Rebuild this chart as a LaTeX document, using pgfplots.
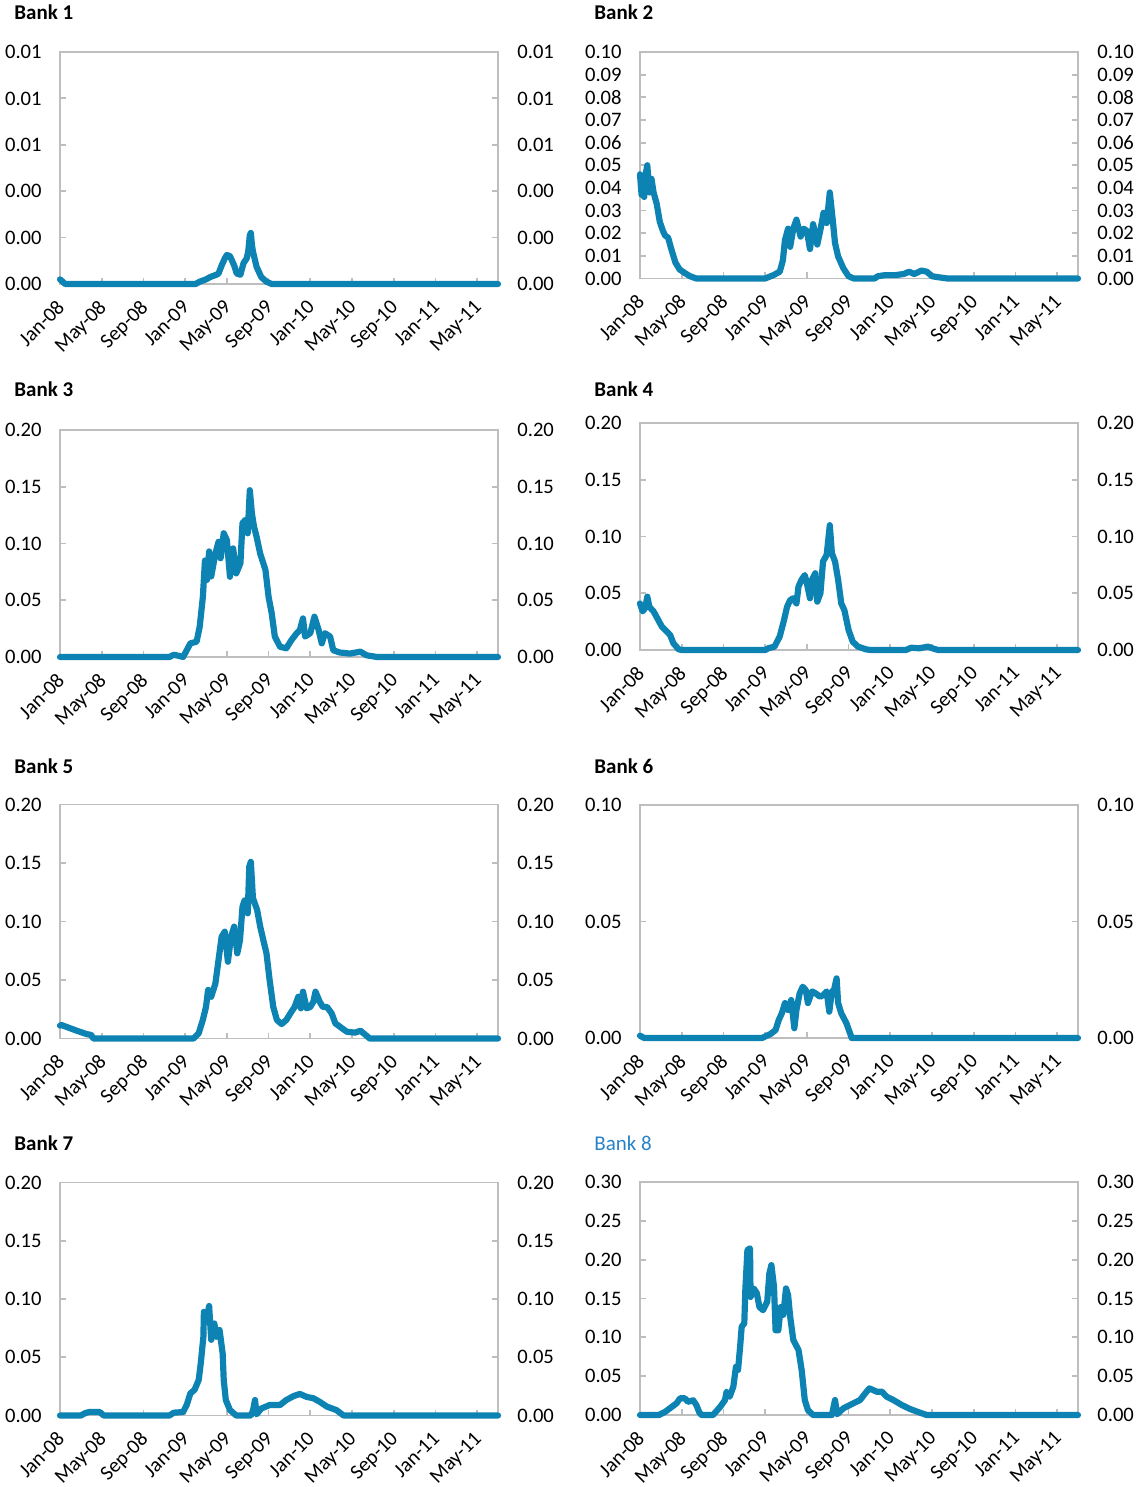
\documentclass[border=0pt]{standalone}
\usepackage{pgfplots}
\pgfplotsset{compat=1.18}
\usepackage{fontspec}
\setmainfont{Carlito}
\definecolor{lineblue}{RGB}{12,131,178}
\definecolor{framegray}{RGB}{190,190,190}
\definecolor{titleblue}{RGB}{40,130,200}

\pgfplotsset{
  bankbase/.style={
    scale only axis, width=219pt, anchor=south west,
    xmin=0, xmax=42, ymin=0,
    scaled y ticks=false,
    tick label style={font=\fontsize{10.3}{12}\selectfont},
    /pgf/number format/assume math mode=true,
    yticklabel style={/pgf/number format/fixed, /pgf/number format/fixed zerofill, /pgf/number format/precision=2},
  },
  bank/.style={
    bankbase,
    clip=false,
    xtick={0,4,...,40},
    xticklabels={Jan-08,May-08,Sep-08,Jan-09,May-09,Sep-09,Jan-10,May-10,Sep-10,Jan-11,May-11},
    xtick pos=left, ytick pos=both,
    tick align=inside,
    major tick length=3pt,
    axis line style={framegray, line width=0.9pt},
    every tick/.style={framegray, line width=0.9pt},
    yticklabel pos=left,
    y tick label style={anchor=east, inner sep=0pt, xshift=-9pt},
    x tick label style={rotate=45, anchor=north east, inner sep=0pt, xshift=-6.56pt, yshift=-3.49pt},
  },
  bankright/.style={
    bankbase,
    hide x axis,
    axis line style={draw=none},
    major tick length=0pt,
    ytick pos=right, yticklabel pos=right,
    y tick label style={anchor=west, inner sep=0pt, xshift=9.5pt},
  },
  bankline/.style={lineblue, line width=3.1pt, line join=round, line cap=round},
}

\newcommand{\bankpanel}[6]{%
  \begin{axis}[bank, at={(#1,#2)}, height=#3, ymax=#4, ytick={#5}]
    \addplot[bankline] coordinates {#6};
  \end{axis}
  \begin{axis}[bankright, at={(#1,#2)}, height=#3, ymax=#4, ytick={#5}]
  \end{axis}%
}

\begin{document}
\begin{tikzpicture}
\useasboundingbox (0,0) rectangle (572pt,-743.5pt);

\tikzset{ttl/.style={anchor=base west, inner sep=0pt, font=\bfseries\fontsize{10.5}{12}\selectfont}}
\node[ttl] at (7pt,-10pt) {Bank 1};
\node[ttl] at (297pt,-10pt) {Bank 2};
\node[ttl] at (7pt,-198pt) {Bank 3};
\node[ttl] at (297pt,-198pt) {Bank 4};
\node[ttl] at (7pt,-386.5pt) {Bank 5};
\node[ttl] at (297pt,-386.5pt) {Bank 6};
\node[ttl] at (7pt,-575pt) {Bank 7};
\node[anchor=base west, inner sep=0pt, font=\fontsize{10.5}{12}\selectfont, text=titleblue] at (297pt,-575pt) {Bank 8};

% Bank 1
\bankpanel{30pt}{-142pt}{116pt}{0.01}{0,0.002,0.004,0.006,0.008,0.01}{
(0,0.0002) (0.5,0) (13.0,0) (13.4,0.0001) (14.0,0.0002) (14.4,0.0003) (15.0,0.0004) (15.2,0.00045) (15.5,0.0008) (15.8,0.0011) (16.0,0.00125) (16.3,0.0012) (16.5,0.001) (16.7,0.0008) (16.95,0.00045) (17.3,0.0004) (17.6,0.0009) (17.9,0.0011) (18.05,0.0014) (18.2,0.0021) (18.3,0.0022) (18.4,0.0017) (18.5,0.0014) (18.85,0.00074) (19.3,0.0003) (19.8,0.0001) (20.3,0) (42,0)}

% Bank 2
\bankpanel{320pt}{-139.25pt}{113.25pt}{0.1}{0,0.01,0.02,0.03,0.04,0.05,0.06,0.07,0.08,0.09,0.1}{
(0,0.046) (0.15,0.037) (0.26,0.038) (0.4,0.036) (0.5,0.045) (0.7,0.050) (0.9,0.038) (1.1,0.044) (1.3,0.038) (1.6,0.033) (1.9,0.025) (2.2,0.021) (2.4,0.019) (2.7,0.018) (3.0,0.013) (3.2,0.010) (3.4,0.007) (3.8,0.004) (4.3,0.0024) (4.8,0.001) (5.4,0) (12,0) (12.8,0.0015) (13.4,0.003) (13.7,0.008) (13.9,0.017) (14.2,0.022) (14.4,0.014) (14.7,0.022) (15.0,0.026) (15.4,0.0185) (15.7,0.022) (16.0,0.021) (16.3,0.013) (16.6,0.024) (17.0,0.015) (17.3,0.0215) (17.6,0.029) (17.9,0.0245) (18.2,0.038) (18.5,0.025) (18.7,0.0156) (19.0,0.0097) (19.5,0.0045) (20.0,0.001) (20.5,0) (22.5,0) (22.8,0.001) (23.5,0.0015) (24.5,0.0015) (25.3,0.002) (25.8,0.003) (26.3,0.002) (27.0,0.0035) (27.5,0.003) (28.0,0.001) (28.7,0.0005) (29.5,0) (42,0)}

% Bank 3
\bankpanel{30pt}{-328.5pt}{113.5pt}{0.2}{0,0.05,0.1,0.15,0.2}{
(0,0) (10.5,0) (10.9,0.002) (11.4,0.001) (11.8,0) (12.1,0.005) (12.5,0.012) (13.1,0.0135) (13.4,0.027) (13.7,0.053) (13.9,0.085) (14.1,0.068) (14.3,0.093) (14.5,0.071) (14.9,0.091) (15.2,0.1015) (15.4,0.087) (15.7,0.109) (16.0,0.103) (16.3,0.0707) (16.6,0.0957) (16.9,0.0737) (17.3,0.0826) (17.5,0.118) (17.8,0.121) (18.0,0.109) (18.2,0.147) (18.4,0.1266) (18.6,0.115) (18.85,0.106) (19.2,0.091) (19.7,0.0767) (20.0,0.053) (20.3,0.0385) (20.6,0.018) (21.1,0.009) (21.7,0.0077) (22.2,0.015) (22.7,0.0209) (23.0,0.0238) (23.3,0.034) (23.5,0.018) (24.0,0.021) (24.4,0.0355) (24.8,0.0238) (25.1,0.012) (25.4,0.021) (25.9,0.018) (26.2,0.006) (26.8,0.004) (27.8,0.003) (28.8,0.0047) (29.4,0.0015) (30.4,0) (42,0)}

% Bank 4
\bankpanel{320pt}{-325pt}{113.5pt}{0.2}{0,0.05,0.1,0.15,0.2}{
(0,0.041) (0.25,0.034) (0.5,0.037) (0.7,0.047) (0.9,0.038) (1.3,0.034) (1.6,0.029) (2.1,0.0205) (2.6,0.016) (2.9,0.013) (3.2,0.006) (3.7,0.0006) (4.0,0) (12,0) (12.3,0.0015) (12.9,0.003) (13.4,0.012) (13.8,0.026) (14.1,0.038) (14.4,0.044) (14.7,0.0456) (15.0,0.041) (15.2,0.056) (15.5,0.062) (15.8,0.066) (16.0,0.0588) (16.3,0.0456) (16.5,0.062) (16.8,0.0676) (17.0,0.0426) (17.3,0.05) (17.55,0.078) (17.9,0.0838) (18.2,0.110) (18.4,0.0853) (18.7,0.078) (19.0,0.0617) (19.3,0.041) (19.6,0.035) (20.0,0.0176) (20.4,0.0073) (20.9,0.003) (21.7,0.0005) (22.2,0) (25.5,0) (26,0.002) (26.8,0.0015) (27.6,0.003) (28.2,0.001) (28.6,0) (42,0)}

% Bank 5
\bankpanel{30pt}{-519.25pt}{117pt}{0.2}{0,0.05,0.1,0.15,0.2}{
(0,0.011) (0.15,0.0115) (0.6,0.010) (1.6,0.0067) (2.55,0.0038) (3.0,0.003) (3.2,0) (12.8,0) (13.3,0.0045) (13.7,0.016) (14.0,0.027) (14.2,0.0415) (14.5,0.0357) (14.9,0.047) (15.2,0.067) (15.5,0.087) (15.8,0.0913) (16.1,0.0656) (16.4,0.087) (16.7,0.0956) (17.0,0.0728) (17.26,0.084) (17.5,0.1126) (17.7,0.118) (18.0,0.107) (18.15,0.147) (18.3,0.151) (18.5,0.12) (18.9,0.11) (19.2,0.0956) (19.5,0.084) (19.8,0.0728) (20.1,0.05) (20.45,0.027) (20.8,0.0158) (21.25,0.0124) (21.7,0.0158) (22.2,0.023) (22.5,0.027) (22.85,0.0357) (23.1,0.0258) (23.3,0.04) (23.65,0.0258) (24.0,0.027) (24.3,0.0315) (24.5,0.04) (24.9,0.0315) (25.2,0.027) (25.6,0.027) (26.05,0.0215) (26.4,0.013) (26.85,0.01) (27.5,0.0058) (28.3,0.005) (28.8,0.0067) (29.2,0.0038) (29.7,0) (42,0)}

% Bank 6
\bankpanel{320pt}{-519pt}{116.5pt}{0.1}{0,0.05,0.1}{
(0,0.001) (0.4,0) (11.7,0) (12.5,0.0017) (13.0,0.0034) (13.3,0.0077) (13.6,0.0106) (13.9,0.015) (14.2,0.012) (14.5,0.0163) (14.8,0.0042) (15.0,0.012) (15.3,0.019) (15.6,0.022) (15.9,0.0206) (16.1,0.015) (16.5,0.02) (16.9,0.019) (17.25,0.0177) (17.6,0.0185) (17.9,0.02) (18.15,0.0113) (18.4,0.02) (18.6,0.0206) (18.85,0.0256) (19.0,0.015) (19.3,0.0106) (19.8,0.0063) (20.3,0) (42,0)}

% Bank 7
\bankpanel{30pt}{-707.75pt}{116.5pt}{0.2}{0,0.05,0.1,0.15,0.2}{
(0,0) (2.0,0) (2.4,0.002) (2.8,0.003) (3.8,0.003) (4.2,0) (10.5,0) (10.9,0.0024) (11.8,0.003) (12.15,0.009) (12.5,0.019) (12.9,0.022) (13.3,0.0305) (13.5,0.045) (13.75,0.0676) (13.8,0.089) (14.05,0.082) (14.3,0.094) (14.5,0.065) (14.8,0.079) (15.0,0.0676) (15.3,0.0734) (15.6,0.053) (15.7,0.0305) (15.9,0.0133) (16.3,0.0047) (16.9,0) (18.3,0) (18.5,0.004) (18.7,0.0133) (18.85,0.001) (19.3,0.006) (20.1,0.009) (21.1,0.009) (21.7,0.0133) (22.4,0.0167) (23.0,0.0185) (23.65,0.016) (24.3,0.0148) (24.9,0.0118) (25.6,0.0076) (26.5,0.0047) (27.2,0) (42,0)}

% Bank 8
\bankpanel{320pt}{-707.5pt}{116.5pt}{0.3}{0,0.05,0.1,0.15,0.2,0.25,0.3}{
(0,0) (1.8,0) (2.4,0.004) (3.0,0.01) (3.5,0.015) (3.84,0.0215) (4.3,0.0215) (4.6,0.017) (5.1,0.019) (5.4,0.0129) (5.7,0.003) (5.9,0) (7.0,0) (7.7,0.0107) (8.15,0.0193) (8.3,0.03) (8.6,0.0236) (8.95,0.0365) (9.2,0.062) (9.4,0.058) (9.6,0.088) (9.75,0.1137) (10.0,0.118) (10.1,0.161) (10.3,0.2125) (10.55,0.2146) (10.6,0.152) (10.9,0.163) (11.2,0.157) (11.45,0.139) (11.8,0.135) (12.2,0.146) (12.4,0.182) (12.6,0.193) (12.85,0.165) (13.0,0.109) (13.26,0.109) (13.5,0.139) (13.74,0.129) (14.0,0.163) (14.2,0.1545) (14.4,0.1266) (14.7,0.0966) (15.2,0.0837) (15.5,0.058) (15.8,0.0193) (16.1,0.0064) (16.6,0) (18.4,0) (18.7,0.0193) (18.9,0.001) (19.5,0.0086) (20.45,0.015) (21.1,0.0193) (21.6,0.028) (22.0,0.0343) (22.7,0.03) (23.2,0.03) (23.65,0.0236) (24.3,0.0193) (25.1,0.0129) (25.9,0.0077) (26.85,0.003) (27.5,0) (42,0)}

\end{tikzpicture}
\end{document}
